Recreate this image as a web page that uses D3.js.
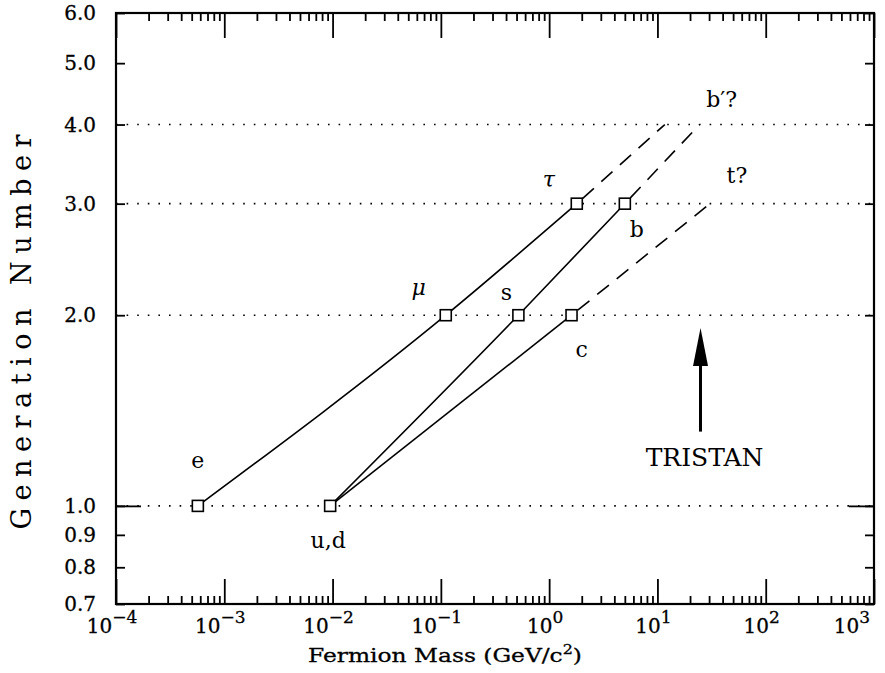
<!DOCTYPE html>
<html>
<head>
<meta charset="utf-8">
<script src="https://cdn.jsdelivr.net/npm/d3@7"></script>
<style>
  body { margin: 0; background: #fff; }
  svg { display: block; }
</style>
</head>
<body>
<svg width="885" height="673"></svg>
<script>
// generation 1..3 points, masses in GeV
const leptonMass = [0.00057, 0.111, 1.80];
const leptonGen = [1, 2, 3];
const downMass = [0.0095, 0.52, 5.0];
const downGen = [1, 2, 3];
const upMass = [0.0095, 1.61];
const upGen = [1, 2];

// dashed extrapolations to the next generation
const leptonExtMass = [1.80, 11.7];
const leptonExtGen = [3, 4];
const downExtMass = [5.0, 24.5];
const downExtGen = [3, 4];
const upExtMass = [1.61, 30.5];
const upExtGen = [2, 3];

const gridGens = [1, 2, 3, 4];
const yTicks = [0.7, 0.8, 0.9, 1, 2, 3, 4, 5, 6];
const xDecades = [1e-4, 1e-3, 1e-2, 1e-1, 1e0, 1e1, 1e2, 1e3];
const xExponents = ["−4", "−3", "−2", "−1", "0", "1", "2", "3"];

const tristanMass = 25;
const tristanGen = [1.31, 1.91];

const svg = d3.select("svg");
const x = d3.scaleLog().domain([1e-4, 1e3]).range([116, 874]);
const y = d3.scaleLog().domain([0.7, 6]).range([604, 13]);

const serif = "'DejaVu Serif', serif";

// minor ticks in every decade
let minor = [];
for (let i = 0; i < xDecades.length - 1; i++) {
    for (let k = 2; k <= 9; k++) minor.push(xDecades[i] * k);
}

// dotted generation lines
svg.selectAll(".grid").data(gridGens).enter().append("line")
    .attr("x1", x.range()[0]).attr("x2", x.range()[1])
    .attr("y1", d => y(d)).attr("y2", d => y(d))
    .attr("stroke", "#000").attr("stroke-width", 1.6)
    .attr("stroke-dasharray", "1.6,9");

// axes, ticks drawn inward
const axisStyle = g => {
    g.selectAll("path.domain").remove();
    g.selectAll("line").attr("stroke", "#000").attr("stroke-width", 1.8);
    g.selectAll("text").remove();
};
svg.append("g").attr("transform", "translate(0," + y.range()[0] + ")")
    .call(d3.axisBottom(x).tickValues(minor).tickSize(-8).tickSizeOuter(0)).call(axisStyle);
svg.append("g").attr("transform", "translate(0," + y.range()[0] + ")")
    .call(d3.axisBottom(x).tickValues(xDecades).tickSize(-25).tickSizeOuter(0)).call(axisStyle);
svg.append("g").attr("transform", "translate(0," + y.range()[1] + ")")
    .call(d3.axisTop(x).tickValues(minor).tickSize(-8).tickSizeOuter(0)).call(axisStyle);
svg.append("g").attr("transform", "translate(0," + y.range()[1] + ")")
    .call(d3.axisTop(x).tickValues(xDecades).tickSize(-25).tickSizeOuter(0)).call(axisStyle);
svg.append("g").attr("transform", "translate(" + x.range()[0] + ",0)")
    .call(d3.axisLeft(y).tickValues(yTicks).tickSize(-9).tickSizeOuter(0)).call(axisStyle);
svg.append("g").attr("transform", "translate(" + x.range()[1] + ",0)")
    .call(d3.axisRight(y).tickValues(yTicks).tickSize(-9).tickSizeOuter(0)).call(axisStyle);
svg.append("g").attr("transform", "translate(" + x.range()[0] + ",0)")
    .call(d3.axisLeft(y).tickValues([1]).tickSize(-25).tickSizeOuter(0)).call(axisStyle);
svg.append("g").attr("transform", "translate(" + x.range()[1] + ",0)")
    .call(d3.axisRight(y).tickValues([1]).tickSize(-25).tickSizeOuter(0)).call(axisStyle);

// frame
svg.append("rect")
    .attr("x", x.range()[0]).attr("y", y.range()[1])
    .attr("width", x.range()[1] - x.range()[0]).attr("height", y.range()[0] - y.range()[1])
    .attr("fill", "none").attr("stroke", "#000").attr("stroke-width", 2.2);

// y tick labels
svg.selectAll(".ylab").data(yTicks).enter().append("text")
    .attr("x", 96).attr("y", d => y(d)).attr("dy", "0.36em")
    .attr("text-anchor", "end").attr("font-family", serif).attr("font-size", 20)
    .attr("stroke", "#000").attr("stroke-width", 0.3)
    .text(d => d3.format(".1f")(d));

// x tick labels 10^n (last one kept inside the page)
const xl = svg.selectAll(".xlab").data(xDecades).enter().append("text")
    .attr("x", (d, i) => Math.min(x(d) - 4, 852)).attr("y", 633)
    .attr("text-anchor", "middle").attr("font-family", serif).attr("font-size", 20)
    .attr("stroke", "#000").attr("stroke-width", 0.3);
xl.append("tspan").text("10");
xl.append("tspan").attr("dy", -10).attr("font-size", 17).text((d, i) => xExponents[i]);

// axis titles
const xt = svg.append("text")
    .attr("x", 445).attr("y", 662).attr("text-anchor", "middle")
    .attr("font-family", serif).attr("font-size", 19)
    .attr("stroke", "#000").attr("stroke-width", 0.3)
    .attr("textLength", 274).attr("lengthAdjust", "spacingAndGlyphs");
xt.append("tspan").text("Fermion Mass (GeV/c");
xt.append("tspan").attr("dy", -8).attr("font-size", 13).text("2");
xt.append("tspan").attr("dy", 8).text(")");

svg.append("text")
    .attr("transform", "translate(31,332) rotate(-90)")
    .attr("text-anchor", "middle").attr("font-family", serif).attr("font-size", 27)
    .attr("textLength", 395).attr("lengthAdjust", "spacing")
    .text("Generation Number");

// lines
const toPts = (ms, gs) => ms.map((m, i) => [x(m), y(gs[i])]);
const solid = d3.line().curve(d3.curveMonotoneX);
const straight = d3.line();

[[leptonMass, leptonGen], [downMass, downGen], [upMass, upGen]].forEach(s => {
    svg.append("path").attr("d", solid(toPts(s[0], s[1])))
        .attr("fill", "none").attr("stroke", "#000").attr("stroke-width", 1.6);
});
[[leptonExtMass, leptonExtGen], [downExtMass, downExtGen], [upExtMass, upExtGen]].forEach(s => {
    svg.append("path").attr("d", straight(toPts(s[0], s[1])))
        .attr("fill", "none").attr("stroke", "#000").attr("stroke-width", 1.6)
        .attr("stroke-dasharray", "15,10").attr("stroke-dashoffset", -8);
});

// markers
const allPts = toPts(leptonMass, leptonGen).concat(toPts(downMass, downGen), toPts(upMass, upGen).slice(1));
svg.selectAll(".pt").data(allPts).enter().append("rect")
    .attr("x", d => d[0] - 5.5).attr("y", d => d[1] - 5.5)
    .attr("width", 11).attr("height", 11)
    .attr("fill", "#fff").attr("stroke", "#000").attr("stroke-width", 1.6);

// particle labels: anchored on a data point, offset in pixels
const labels = [
    { t: "e", m: leptonMass[0], g: leptonGen[0], dx: 0, dy: -46, it: false },
    { t: "μ", m: leptonMass[1], g: leptonGen[1], dx: -27, dy: -28, it: true },
    { t: "τ", m: leptonMass[2], g: leptonGen[2], dx: -28, dy: -24, it: true },
    { t: "u,d", m: downMass[0], g: downGen[0], dx: -2, dy: 34, it: false },
    { t: "s", m: downMass[1], g: downGen[1], dx: -12, dy: -23, it: false },
    { t: "b", m: downMass[2], g: downGen[2], dx: 12, dy: 26, it: false },
    { t: "c", m: upMass[1], g: upGen[1], dx: 10, dy: 34, it: false },
    { t: "b′?", m: downExtMass[1], g: downExtGen[1], dx: 22, dy: -25, it: false },
    { t: "t?", m: upExtMass[1], g: upExtGen[1], dx: 27, dy: -28, it: false }
];
svg.selectAll(".lab").data(labels).enter().append("text")
    .attr("x", d => x(d.m) + d.dx).attr("y", d => y(d.g) + d.dy).attr("dy", "0.35em")
    .attr("text-anchor", "middle").attr("font-family", serif).attr("font-size", 22)
    .attr("font-style", d => d.it ? "italic" : "normal")
    .text(d => d.t);

// TRISTAN arrow
svg.append("line")
    .attr("x1", x(tristanMass)).attr("x2", x(tristanMass))
    .attr("y1", y(tristanGen[0])).attr("y2", y(tristanGen[1]) + 30)
    .attr("stroke", "#000").attr("stroke-width", 3);
svg.append("path")
    .attr("d", "M" + x(tristanMass) + "," + y(tristanGen[1]) +
        "l-7.5,38h15z")
    .attr("fill", "#000");
svg.append("text")
    .attr("x", x(tristanMass) + 4).attr("y", y(1.195)).attr("dy", "0.35em")
    .attr("text-anchor", "middle").attr("font-family", serif).attr("font-size", 25)
    .text("TRISTAN");
</script>
</body>
</html>
